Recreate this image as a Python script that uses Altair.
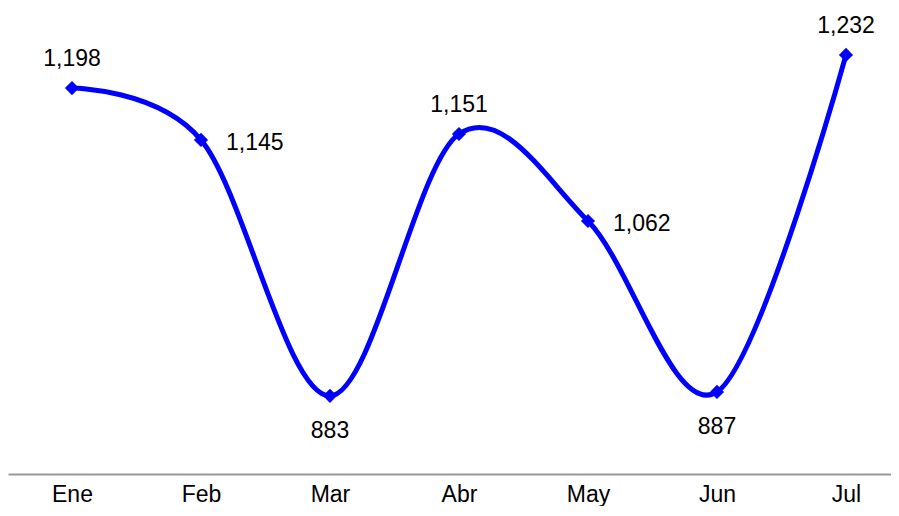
import altair as alt
import pandas as pd

months = ["Ene", "Feb", "Mar", "Abr", "May", "Jun", "Jul"]
values = [1198, 1145, 883, 1151, 1062, 887, 1232]
labels_above = ["Ene", "Abr", "Jul"]
labels_right = ["Feb", "May"]
labels_below = ["Mar", "Jun"]

df = pd.DataFrame({"mes": months, "valor": values, "idx": list(range(len(months)))})

FONT = "Liberation Sans"
BLUE = "#0000FF"

month_expr = "[" + ",".join("'%s'" % m for m in months) + "][datum.value]"

x = alt.X("idx:Q",
          scale=alt.Scale(domain=[-0.496, 6.349], nice=False, zero=False),
          axis=alt.Axis(title=None, ticks=False, grid=False, labelAngle=0,
                        values=list(range(len(months))), labelExpr=month_expr,
                        labelFont=FONT, labelFontSize=23, labelColor="#000000",
                        labelPadding=9, labelFlush=False, labelOverlap=False,
                        domainColor="#999999", domainWidth=2))
y = alt.Y("valor:Q", scale=alt.Scale(domain=[803, 1280], nice=False, zero=False),
          axis=None)

base = alt.Chart(df).encode(x=x, y=y)

line = base.mark_line(color=BLUE, strokeWidth=5, interpolate="cardinal", tension=0)
pts = base.mark_point(shape="diamond", filled=True, color=BLUE, size=200, opacity=1)

def txt(sel, **kw):
    return base.transform_filter(
        alt.FieldOneOfPredicate(field="mes", oneOf=sel)
    ).mark_text(font=FONT, fontSize=23, color="#000000", **kw).encode(
        text=alt.Text("valor:Q", format=",")
    )

t_above = txt(labels_above, align="center", baseline="alphabetic", dy=-22)
t_right = txt(labels_right, align="left", baseline="alphabetic", dx=25, dy=10)
t_below = txt(labels_below, align="center", baseline="alphabetic", dy=42)

chart = alt.layer(line, pts, t_above, t_right, t_below).properties(
    width=883, height=466, padding=0
).configure_view(stroke=None)

chart.save("out.html", embed_options={"renderer": "svg", "actions": False})
